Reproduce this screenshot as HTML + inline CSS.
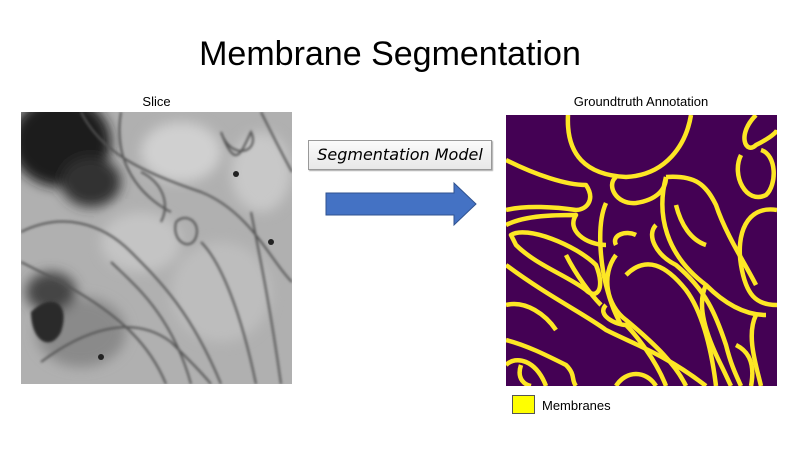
<!DOCTYPE html>
<html><head><meta charset="utf-8"><style>
body{margin:0;width:800px;height:450px;background:#fff;position:relative;overflow:hidden;font-family:"Liberation Sans",sans-serif}
.t{position:absolute;color:#000}
</style></head><body>
<div class="t" style="left:0;width:780px;top:35px;text-align:center;font-size:34px">Membrane Segmentation</div>
<div class="t" style="left:21px;width:271px;top:94px;text-align:center;font-size:13px">Slice</div>
<div class="t" style="left:506px;width:300px;margin-left:-15px;top:94px;text-align:center;font-size:13px">Groundtruth Annotation</div>

<svg style="position:absolute;left:21px;top:112px" width="271" height="272">
<defs><filter id="bl"><feGaussianBlur stdDeviation="6"/></filter><filter id="b2"><feGaussianBlur stdDeviation="1.2"/></filter></defs>
<rect width="271" height="272" fill="#b0b0b0"/>
<g filter="url(#bl)">
<ellipse cx="40" cy="30" rx="50" ry="45" fill="#1a1a1a"/>
<ellipse cx="70" cy="70" rx="30" ry="25" fill="#333"/>
<ellipse cx="160" cy="40" rx="40" ry="30" fill="#d0d0d0"/>
<ellipse cx="60" cy="220" rx="45" ry="35" fill="#8a8a8a"/>
<ellipse cx="30" cy="180" rx="25" ry="20" fill="#444"/>
<ellipse cx="200" cy="180" rx="50" ry="50" fill="#bdbdbd"/>
<ellipse cx="120" cy="130" rx="40" ry="30" fill="#c4c4c4"/>
<ellipse cx="240" cy="60" rx="30" ry="40" fill="#c8c8c8"/>
</g>
<g fill="none" stroke="#555" stroke-width="2" filter="url(#b2)">
<path d="M200 20 C215 60 220 40 230 20 C240 40 210 50 200 20"/>
<path d="M155 110 C165 100 180 110 175 125 C170 140 150 130 155 110"/>
<path d="M0 120 C40 100 80 110 110 140 C140 170 170 200 200 272"/>
<path d="M60 0 C80 40 120 60 180 80 C230 100 250 150 271 170"/>
<path d="M20 250 C60 220 110 200 150 230 C170 250 180 260 190 272"/>
<path d="M100 0 C90 60 130 90 150 100"/>
<path d="M230 100 C240 150 250 200 260 272"/>
<path d="M0 150 C40 170 80 190 110 220 C130 240 140 260 145 272"/>
<path d="M90 150 C110 170 150 200 170 272"/>
<path d="M180 130 C200 150 220 200 235 272"/>
<path d="M120 60 C140 70 150 90 140 110"/>
<path d="M240 0 C250 20 260 40 271 60"/>
</g>
<path d="M10 200 C30 180 50 190 40 220 C30 240 10 230 10 200Z" fill="#2a2a2a" filter="url(#b2)"/>
<circle cx="80" cy="245" r="3" fill="#222"/><circle cx="250" cy="130" r="3" fill="#222"/><circle cx="215" cy="62" r="3" fill="#222"/>
</svg>

<div style="position:absolute;left:308px;top:140px;width:182px;height:28px;border:1px solid #999;background:linear-gradient(#fafafa,#e8e8e8);box-shadow:1px 1px 1px #aaa;font-style:italic;font-size:16px;line-height:28px;text-align:center;font-family:'DejaVu Sans',sans-serif">Segmentation Model</div>

<svg style="position:absolute;left:325px;top:181px" width="155" height="48">
<polygon points="1,12 129,12 129,2 151,23 129,44 129,34 1,34" fill="#4472c4" stroke="#2f528f" stroke-width="1"/>
</svg>

<svg style="position:absolute;left:506px;top:115px" width="271" height="271">
<rect width="271" height="271" fill="#440154"/>
<g fill="none" stroke="#fde725" stroke-width="4.5" stroke-linejoin="round">
<path d="M62 0 C60 40 80 60 120 62 C160 60 180 30 185 0"/>
<path d="M110 62 C100 70 110 90 130 88 C150 85 160 75 160 62"/>
<path d="M0 45 C30 60 60 70 80 70 C90 85 80 95 70 95 C50 92 20 90 0 95"/>
<path d="M0 110 C20 100 50 100 70 100 C60 115 80 130 100 130"/>
<path d="M0 150 C40 180 80 200 100 215 C130 230 160 240 200 271"/>
<path d="M5 120 C20 110 70 130 90 150 C100 175 90 185 80 175 C60 160 30 150 10 130Z"/>
<path d="M100 88 C90 110 95 150 100 170 C105 190 110 200 115 210"/>
<path d="M130 120 C120 115 105 120 110 130"/>
<path d="M160 62 C150 100 160 140 200 170 C220 190 240 200 260 200"/>
<path d="M160 62 C190 60 200 70 210 90 C220 120 240 150 250 170"/>
<path d="M150 110 C140 120 150 140 170 150 C200 175 210 200 220 230 C225 250 230 260 235 271"/>
<path d="M110 140 C95 160 100 190 120 205 C150 230 170 250 180 271"/>
<path d="M100 190 C90 200 110 210 120 210 C130 220 150 245 160 271"/>
<path d="M0 225 C20 230 40 240 60 250 C70 260 65 265 70 271"/>
<path d="M15 250 C10 265 20 270 25 271"/>
<path d="M250 0 C230 20 240 40 250 30 C270 20 271 15 271 15"/>
<path d="M235 40 C225 60 240 90 260 80 C271 70 271 40 255 35"/>
<path d="M271 95 C240 90 230 120 235 150 C240 180 250 190 271 190"/>
<path d="M200 170 C190 190 200 220 215 250 C220 260 222 265 225 271"/>
<path d="M250 200 C240 220 250 250 255 271"/>
<path d="M0 190 C20 185 40 200 50 215"/>
<path d="M110 271 C120 255 140 255 150 271"/>
<path d="M0 250 C10 240 30 245 40 271"/>
<path d="M120 160 C140 140 160 150 180 175 C195 195 205 230 210 271"/>
<path d="M170 90 C175 110 185 125 200 130"/>
<path d="M230 230 C240 235 250 245 245 271"/>
<path d="M60 140 C70 160 85 180 95 190"/>
</g>
</svg>

<div style="position:absolute;left:512px;top:395px;width:23px;height:19px;background:#ffff00;border:1px solid #555;box-sizing:border-box"></div>
<div class="t" style="left:542px;top:398px;font-size:13px">Membranes</div>
</body></html>
